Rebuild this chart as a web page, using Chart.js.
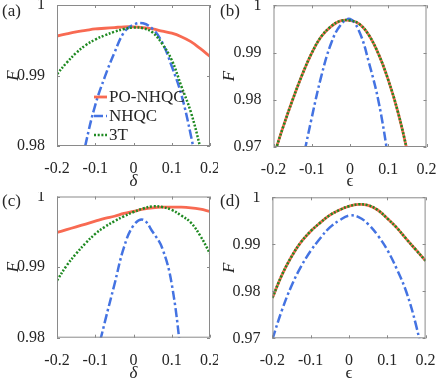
<!DOCTYPE html>
<html>
<head>
<meta charset="utf-8">
<script src="https://cdn.jsdelivr.net/npm/chart.js@4.4.1/dist/chart.umd.min.js"></script>
<style>
  body { margin: 0; background: #fff; }
  #wrap { position: relative; width: 436px; height: 384px; }
  canvas { position: absolute; }
  .probe { position: absolute; left: -500px; top: 0; font-family: 'Liberation Serif'; }
</style>
</head>
<body>
<div id="wrap">
  <span class="probe">0.99 PO-NHQC <i>F δ</i></span>
  <canvas id="pa" width="218" height="192" style="left:0;top:0"></canvas>
  <canvas id="pb" width="218" height="192" style="left:218px;top:0"></canvas>
  <canvas id="pc" width="218" height="192" style="left:0;top:192px"></canvas>
  <canvas id="pd" width="218" height="192" style="left:218px;top:192px"></canvas>
</div>
<script>
// shared x samples (delta / epsilon)
const xGrid = [-0.2, -0.175, -0.15, -0.125, -0.1, -0.075, -0.05, -0.025, 0, 0.025, 0.05, 0.075, 0.1, 0.125, 0.15, 0.175, 0.2];
const xTicks = [-0.2, -0.1, 0, 0.1, 0.2];
const yTicksAC = [0.98, 0.99, 1];
const yTicksBD = [0.97, 0.98, 0.99, 1];
const names = ['PO-NHQC', 'NHQC', '3T'];

// (a) F vs delta
const aPO = [0.9956, 0.9959, 0.9962, 0.9964, 0.9966, 0.9967, 0.9968, 0.9969, 0.9969, 0.9968, 0.9966, 0.9963, 0.9960, 0.9955, 0.9948, 0.9938, 0.9927];
const aNH = [0.9580, 0.9660, 0.9735, 0.9803, 0.9858, 0.9898, 0.9932, 0.9961, 0.9972, 0.9974, 0.9966, 0.9947, 0.9913, 0.9873, 0.9815, 0.9745, 0.9665];
const aTT = [0.9902, 0.9918, 0.9932, 0.9943, 0.9951, 0.9957, 0.9962, 0.9966, 0.9968, 0.9967, 0.9961, 0.9945, 0.9922, 0.9885, 0.9848, 0.9797, 0.9740];

// (b) F vs epsilon
const bPO = [0.9680, 0.9742, 0.9800, 0.9853, 0.9899, 0.9934, 0.9955, 0.9967, 0.9968, 0.9960, 0.9936, 0.9896, 0.9842, 0.9775, 0.9690, 0.9590, 0.9480];
const bNH = [0.9290, 0.9430, 0.9555, 0.9665, 0.9762, 0.9850, 0.9918, 0.9958, 0.9971, 0.9943, 0.9877, 0.9795, 0.9675, 0.9530, 0.9360, 0.9170, 0.8960];
const bTT = [0.9680, 0.9742, 0.9800, 0.9853, 0.9899, 0.9934, 0.9955, 0.9967, 0.9968, 0.9960, 0.9936, 0.9896, 0.9842, 0.9775, 0.9690, 0.9590, 0.9480];

// (c) F vs delta
const cPO = [0.9949, 0.9953, 0.9957, 0.9961, 0.9965, 0.9969, 0.9972, 0.9976, 0.9979, 0.9982, 0.9984, 0.9985, 0.9985, 0.9985, 0.9984, 0.9982, 0.9979];
const cNH = [0.9380, 0.9500, 0.9600, 0.9690, 0.9765, 0.9822, 0.9875, 0.9928, 0.9959, 0.9967, 0.9950, 0.9927, 0.9876, 0.9770, 0.9630, 0.9480, 0.9300];
const cTT = [0.9881, 0.9902, 0.9919, 0.9934, 0.9947, 0.9957, 0.9965, 0.9972, 0.9978, 0.9983, 0.9986, 0.9985, 0.9981, 0.9973, 0.9963, 0.9944, 0.9919];

// (d) F vs epsilon
const dPO = [0.9786, 0.9835, 0.9874, 0.9905, 0.9928, 0.9946, 0.9962, 0.9973, 0.9981, 0.9985, 0.9983, 0.9973, 0.9955, 0.9935, 0.9911, 0.9888, 0.9865];
const dNH = [0.9698, 0.9760, 0.9812, 0.9853, 0.9886, 0.9913, 0.9936, 0.9951, 0.9961, 0.9958, 0.9943, 0.9919, 0.9888, 0.9847, 0.9798, 0.9728, 0.9636];
const dTT = [0.9786, 0.9835, 0.9874, 0.9905, 0.9928, 0.9946, 0.9962, 0.9973, 0.9981, 0.9985, 0.9983, 0.9973, 0.9955, 0.9935, 0.9911, 0.9888, 0.9865];

const RED = '#f86a52', BLUE = '#4473e2', GREEN = '#1f8a22';
const TXT = '#262626';
const SERIF = "'Liberation Serif', serif";

Chart.defaults.font.family = SERIF;
Chart.defaults.color = TXT;

const fmt = v => String(+Number(v).toFixed(2));
const pts = ys => xGrid.map((x, i) => ({ x: x, y: ys[i] }));

// MATLAB style box with inward ticks
const framePlugin = {
  id: 'frame',
  afterDatasetsDraw(chart) {
    const { ctx, chartArea: a, scales } = chart;
    ctx.save();
    ctx.strokeStyle = '#8a8a8a';
    ctx.lineWidth = 1;
    ctx.setLineDash([]);
    ctx.strokeRect(a.left + 0.5, a.top + 0.5, a.right - a.left - 1, a.bottom - a.top - 1);
    const tl = 3;
    ctx.beginPath();
    scales.x.ticks.forEach(t => {
      const px = Math.round(scales.x.getPixelForValue(t.value)) + 0.5;
      ctx.moveTo(px, a.bottom); ctx.lineTo(px, a.bottom - tl);
      ctx.moveTo(px, a.top); ctx.lineTo(px, a.top + tl);
    });
    scales.y.ticks.forEach(t => {
      const py = Math.round(scales.y.getPixelForValue(t.value)) + 0.5;
      ctx.moveTo(a.left, py); ctx.lineTo(a.left + tl, py);
      ctx.moveTo(a.right, py); ctx.lineTo(a.right - tl, py);
    });
    ctx.stroke();
    ctx.restore();
  }
};

// panel tag and in-axes legend
const extrasPlugin = {
  id: 'extras',
  afterDraw(chart, args, opts) {
    const ctx = chart.ctx;
    ctx.save();
    ctx.fillStyle = TXT;
    ctx.font = '17px ' + SERIF;
    ctx.textBaseline = 'middle';
    ctx.textAlign = 'left';
    ctx.fillText(opts.tag, 2, opts.tagY);
    if (opts.legend) {
      const L = opts.legend;
      chart.data.datasets.forEach((ds, i) => {
        const y = L.y + i * L.dy;
        ctx.strokeStyle = ds.borderColor;
        ctx.lineWidth = ds.borderWidth;
        ctx.setLineDash(ds.borderDash || []);
        ctx.beginPath();
        ctx.moveTo(L.x, y); ctx.lineTo(L.x + L.len, y);
        ctx.stroke();
        ctx.setLineDash([]);
        ctx.font = '17px ' + SERIF;
        ctx.fillText(ds.label, L.x + L.len + 2, y + 1);
      });
    }
    ctx.restore();
  }
};

function panel(id, o) {
  const mk = (label, ys, color, dash, order, w) => ({
    label: label, data: pts(ys), borderColor: color, borderWidth: w,
    borderDash: dash, order: order, pointRadius: 0, tension: 0.4, fill: false
  });
  new Chart(document.getElementById(id), {
    type: 'line',
    data: {
      datasets: [
        mk(names[0], o.po, RED, [], 3, 2.8),
        mk(names[1], o.nh, BLUE, [9, 3, 2.5, 3], 2, 2.5),
        mk(names[2], o.tt, GREEN, [2, 1.7], 1, 2.5)
      ]
    },
    options: {
      responsive: false,
      animation: false,
      events: [],
      layout: { padding: { left: 0, top: o.pt, right: o.pr, bottom: 0 } },
      plugins: {
        legend: { display: false },
        tooltip: { enabled: false },
        extras: { tag: o.tag, tagY: o.tagY, legend: o.legend }
      },
      scales: {
        x: {
          type: 'linear', min: -0.2, max: 0.2,
          afterBuildTicks: s => { s.ticks = xTicks.map(v => ({ value: v })); },
          afterFit: s => { s.height = o.xh; s.paddingLeft = 0; s.paddingRight = 0; },
          grid: { display: false }, border: { display: false },
          ticks: { padding: 5, autoSkip: false, maxRotation: 0, font: { size: 16, family: SERIF }, color: TXT, callback: v => fmt(v) },
          title: { display: true, text: o.xt, color: TXT, font: { size: 17, style: o.xs, family: SERIF }, padding: { top: 0, bottom: 0 } }
        },
        y: {
          type: 'linear', min: o.yt[0], max: 1,
          afterBuildTicks: s => { s.ticks = o.yt.map(v => ({ value: v })); },
          afterFit: s => { s.width = o.yw; s.paddingTop = 0; s.paddingBottom = 0; },
          grid: { display: false }, border: { display: false },
          ticks: { padding: 4, autoSkip: false, font: { size: 16, family: SERIF }, color: TXT, callback: v => fmt(v) },
          title: { display: true, text: 'F', color: TXT, font: { size: 17, style: 'italic', family: SERIF }, padding: { top: o.fp, bottom: 0 } }
        }
      }
    },
    plugins: [framePlugin, extrasPlugin]
  });
}

function drawAll() {
  panel('pa', { po: aPO, nh: aNH, tt: aTT, yt: yTicksAC, xt: 'δ', xs: 'italic', tag: '(a)', tagY: 12,
    pt: 5, pr: 8, yw: 57, xh: 46, fp: 3, legend: { x: 94, y: 97, dy: 19, len: 13 } });
  panel('pb', { po: bPO, nh: bNH, tt: bTT, yt: yTicksBD, xt: 'ϵ', xs: 'normal', tag: '(b)', tagY: 12,
    pt: 5.3, pr: 9.5, yw: 55.5, xh: 45, fp: 1 });
  panel('pc', { po: cPO, nh: cNH, tt: cTT, yt: yTicksAC, xt: 'δ', xs: 'italic', tag: '(c)', tagY: 10,
    pt: 4.5, pr: 8, yw: 57, xh: 46.3, fp: 3 });
  panel('pd', { po: dPO, nh: dNH, tt: dTT, yt: yTicksBD, xt: 'ϵ', xs: 'normal', tag: '(d)', tagY: 10,
    pt: 5.3, pr: 10.4, yw: 54.4, xh: 45.7, fp: 1 });
}

if (document.fonts && document.fonts.load) {
  Promise.all([
    document.fonts.load("16px 'Liberation Serif'"),
    document.fonts.load("italic 17px 'Liberation Serif'")
  ]).then(drawAll, drawAll);
} else {
  drawAll();
}
</script>
</body>
</html>
